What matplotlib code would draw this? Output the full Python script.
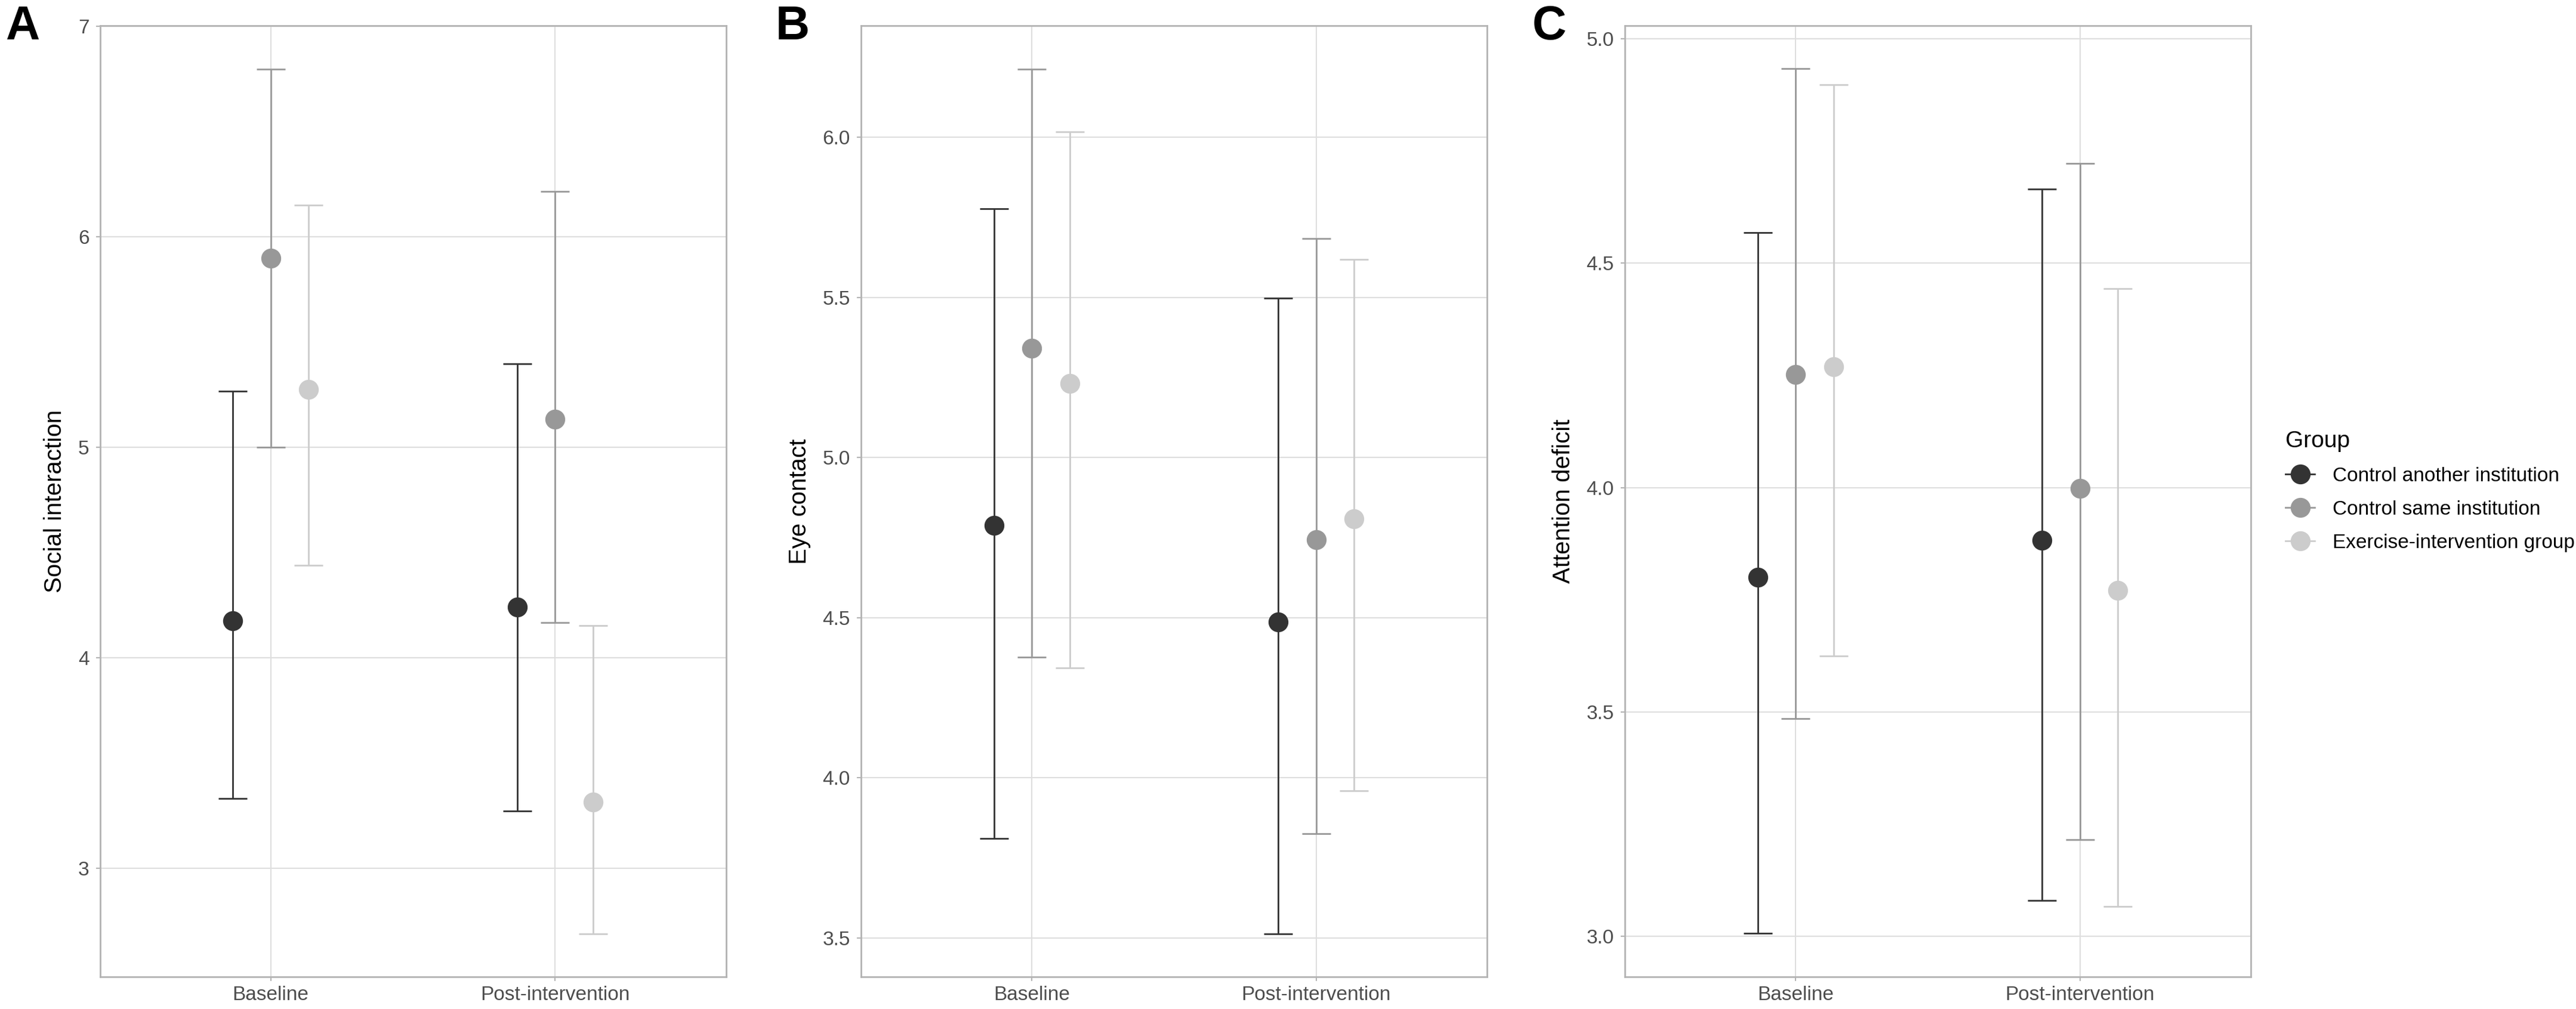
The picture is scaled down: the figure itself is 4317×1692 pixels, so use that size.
import matplotlib
matplotlib.use("Agg")
import matplotlib.pyplot as plt
from matplotlib.lines import Line2D

plt.rcParams['font.family'] = ['Liberation Sans', 'DejaVu Sans']

# ---------------- data ----------------
groups = ["Control another institution", "Control same institution", "Exercise-intervention group"]
times = ["Baseline", "Post-intervention"]
group_colors = ["#333333", "#989898", "#CCCCCC"]

# Panel A: Social interaction  (rows = groups, cols = times)
social_mean = [[4.176, 4.240], [5.899, 5.132], [5.276, 3.314]]
social_low = [[3.333, 3.272], [5.000, 4.167], [4.439, 2.691]]
social_up = [[5.267, 5.398], [6.797, 6.214], [6.150, 4.155]]
social_ticks = [3, 4, 5, 6, 7]
social_ticklabels = ["3", "4", "5", "6", "7"]

# Panel B: Eye contact
eye_mean = [[4.789, 4.486], [5.341, 4.743], [5.231, 4.809]]
eye_low = [[3.811, 3.514], [4.376, 3.825], [4.343, 3.960]]
eye_up = [[5.777, 5.498], [6.213, 5.683], [6.016, 5.618]]
eye_ticks = [3.5, 4.0, 4.5, 5.0, 5.5, 6.0]
eye_ticklabels = ["3.5", "4.0", "4.5", "5.0", "5.5", "6.0"]

# Panel C: Attention deficit
att_mean = [[3.800, 3.882], [4.252, 3.998], [4.269, 3.771]]
att_low = [[3.006, 3.080], [3.485, 3.215], [3.624, 3.066]]
att_up = [[4.568, 4.665], [4.933, 4.722], [4.898, 4.443]]
att_ticks = [3.0, 3.5, 4.0, 4.5, 5.0]
att_ticklabels = ["3.0", "3.5", "4.0", "4.5", "5.0"]

panels = [
    ("A", "Social interaction", social_mean, social_low, social_up, social_ticks, social_ticklabels),
    ("B", "Eye contact", eye_mean, eye_low, eye_up, eye_ticks, eye_ticklabels),
    ("C", "Attention deficit", att_mean, att_low, att_up, att_ticks, att_ticklabels),
]

# ---------------- layout ----------------
W, H = 4317, 1692
DPI = 100
fig = plt.figure(figsize=(W / DPI, H / DPI), dpi=DPI)
fig.patch.set_facecolor("white")

ax_lefts_px = [167.5, 1443, 2723]
ax_width_px = 1049
ax_top_px, ax_bottom_px = 43, 1638
letter_x_px = [9, 1300, 2568]
letter_baseline_px = 66

dodge = [-0.133, 0.0, 0.133]
border_col = "#B3B3B3"
grid_col = "#DEDEDE"
text_grey = "#4D4D4D"

for i, (letter, ylabel, mean, low, up, ticks, ticklabels) in enumerate(panels):
    l = ax_lefts_px[i] / W
    b = 1 - ax_bottom_px / H
    w = ax_width_px / W
    h = (ax_bottom_px - ax_top_px) / H
    ax = fig.add_axes([l, b, w, h])
    ax.set_facecolor("white")

    for g in range(len(groups)):
        xs = [t + 1 + dodge[g] for t in range(len(times))]
        m = mean[g]
        lo = [m[t] - low[g][t] for t in range(len(times))]
        hi = [up[g][t] - m[t] for t in range(len(times))]
        ax.errorbar(xs, m, yerr=[lo, hi], fmt='none', ecolor=group_colors[g],
                    elinewidth=2.0, capsize=17.3, capthick=2.0, zorder=3)
        ax.plot(xs, m, linestyle='none', marker='o', markersize=23,
                markerfacecolor=group_colors[g], markeredgecolor=group_colors[g],
                zorder=4)

    ax.set_xlim(0.4, 2.6)
    ax.margins(y=0.05)
    ax.set_xticks([1, 2])
    ax.set_xticklabels(times)
    ax.set_yticks(ticks)
    ax.set_yticklabels(ticklabels)

    ax.grid(True, which='major', color=grid_col, linewidth=1.5, zorder=0)
    ax.set_axisbelow(True)
    for sp in ax.spines.values():
        sp.set_color(border_col)
        sp.set_linewidth(2.0)
    ax.tick_params(axis='both', which='major', length=5, width=1.5, color=border_col,
                   labelsize=24, labelcolor=text_grey)
    ax.tick_params(axis='y', pad=8)
    ax.tick_params(axis='x', pad=6)
    ax.set_ylabel(ylabel, fontsize=29, color="black", labelpad=14)

    fig.text(letter_x_px[i] / W, 1 - letter_baseline_px / H, letter, fontsize=57,
             fontweight='bold', color='black', ha='left', va='baseline')

handles = [Line2D([0], [0], color=group_colors[g], linewidth=2.0, marker='o',
                  markersize=23, markerfacecolor=group_colors[g],
                  markeredgecolor=group_colors[g]) for g in range(len(groups))]
leg = fig.legend(handles=handles, labels=groups, loc='upper left',
                 bbox_to_anchor=(3830 / W, 1 - 722 / H), frameon=False,
                 fontsize=24, title="Group", title_fontsize=28, alignment='left',
                 handlelength=1.47, handletextpad=0.9, labelspacing=0.75,
                 borderpad=0, borderaxespad=0)

fig.savefig("out.png", dpi=DPI, facecolor="white")
